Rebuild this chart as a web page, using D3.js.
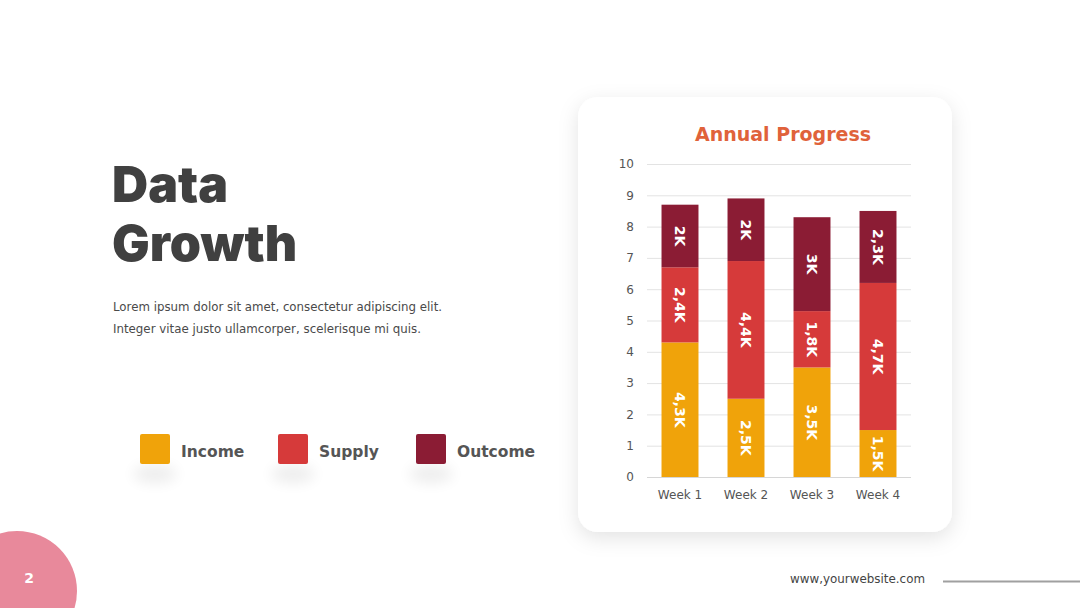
<!DOCTYPE html>
<html>
<head>
<meta charset="utf-8">
<script src="https://cdn.jsdelivr.net/npm/d3@7"></script>
<style>
  body { margin: 0; background: #fff; }
  svg { display: block; }
</style>
</head>
<body>
<div></div>
<script>
var width = 1080;
var height = 608;

// chart data
var weeks = ["Week 1", "Week 2", "Week 3", "Week 4"];
var income = [4.3, 2.5, 3.5, 1.5];
var supply = [2.4, 4.4, 1.8, 4.7];
var outcome = [2, 2, 3, 2.3];
var seriesNames = ["Income", "Supply", "Outcome"];
var seriesColors = ["#F0A30A", "#D63A3A", "#8B1C34"];
var yTicks = [0, 1, 2, 3, 4, 5, 6, 7, 8, 9, 10];

const svg = d3.select("div")
  .append("svg")
  .attr("width", width)
  .attr("height", height);

var defs = svg.append("defs");
var shadow = defs.append("filter").attr("id", "cardShadow")
  .attr("x", "-20%").attr("y", "-20%").attr("width", "140%").attr("height", "140%");
shadow.append("feDropShadow").attr("dx", 0).attr("dy", 6).attr("stdDeviation", 10)
  .attr("flood-color", "#000").attr("flood-opacity", 0.11);

var blur = defs.append("filter").attr("id", "softBlur")
  .attr("x", "-100%").attr("y", "-100%").attr("width", "300%").attr("height", "300%");
blur.append("feGaussianBlur").attr("stdDeviation", 7);

// left side text
svg.append("text")
  .attr("x", 112).attr("y", 202)
  .attr("font-family", "Inter, Roboto, sans-serif")
  .attr("font-weight", 900)
  .attr("font-size", 50)
  .attr("fill", "#404040")
  .text("Data");
svg.append("text")
  .attr("x", 112).attr("y", 261)
  .attr("font-family", "Inter, Roboto, sans-serif")
  .attr("font-weight", 900)
  .attr("font-size", 50)
  .attr("fill", "#404040")
  .text("Growth");

var body = svg.append("g")
  .attr("font-family", "'DejaVu Sans', Verdana, sans-serif")
  .attr("font-size", 12)
  .attr("fill", "#4a4a4a");
body.append("text").attr("x", 113).attr("y", 311)
  .attr("textLength", 329).attr("lengthAdjust", "spacingAndGlyphs")
  .text("Lorem ipsum dolor sit amet, consectetur adipiscing elit.");
body.append("text").attr("x", 113).attr("y", 333)
  .attr("textLength", 308).attr("lengthAdjust", "spacingAndGlyphs")
  .text("Integer vitae justo ullamcorper, scelerisque mi quis.");

// legend
var legendX = [140, 278, 416];
var legend = svg.append("g");
seriesNames.forEach((name, i) => {
  var g = legend.append("g").attr("transform", `translate(${legendX[i]},434)`);
  g.append("ellipse").attr("cx", 15).attr("cy", 40).attr("rx", 22).attr("ry", 9)
    .attr("fill", "#000").attr("opacity", 0.07).attr("filter", "url(#softBlur)");
  g.append("rect").attr("width", 30).attr("height", 30).attr("rx", 2)
    .attr("fill", seriesColors[i]);
  g.append("text")
    .attr("x", 41).attr("y", 23)
    .attr("font-family", "'DejaVu Sans', Verdana, sans-serif")
    .attr("font-weight", "bold")
    .attr("font-size", 15.5)
    .attr("fill", "#555")
    .text(name);
});

// card
var card = { x: 578, y: 97, w: 374, h: 435 };
svg.append("rect")
  .attr("x", card.x).attr("y", card.y)
  .attr("width", card.w).attr("height", card.h)
  .attr("rx", 20)
  .attr("fill", "#fff")
  .attr("filter", "url(#cardShadow)");

svg.append("text")
  .attr("x", 783).attr("y", 141)
  .attr("text-anchor", "middle")
  .attr("font-family", "'DejaVu Sans', Verdana, sans-serif")
  .attr("font-weight", "bold")
  .attr("font-size", 19)
  .attr("fill", "#E0623A")
  .text("Annual Progress");

// chart scales
var x = d3.scaleBand()
  .domain(weeks)
  .range([647, 911])
  .paddingInner(0.44)
  .paddingOuter(0.22);

var y = d3.scaleLinear()
  .domain([0, 10])
  .range([477, 164]);

// gridlines
svg.append("g")
  .selectAll("line")
  .data(yTicks)
  .join("line")
  .attr("x1", 647).attr("x2", 911)
  .attr("y1", (d) => y(d) + 0.5)
  .attr("y2", (d) => y(d) + 0.5)
  .attr("stroke", (d) => d === 0 ? "#d6d6d6" : "#e3e3e3")
  .attr("stroke-width", 1);

// y axis
var yAxis = svg.append("g")
  .attr("transform", "translate(634,0)")
  .call(d3.axisLeft(y).tickValues(yTicks).tickSize(0).tickPadding(0));
yAxis.select(".domain").remove();
yAxis.selectAll("text")
  .attr("font-family", "'DejaVu Sans', Verdana, sans-serif")
  .attr("font-size", 12)
  .attr("fill", "#555");

// x axis
var xAxis = svg.append("g")
  .attr("transform", "translate(0,477)")
  .call(d3.axisBottom(x).tickSize(0).tickPadding(13));
xAxis.select(".domain").remove();
xAxis.selectAll("text")
  .attr("font-family", "'DejaVu Sans', Verdana, sans-serif")
  .attr("font-size", 12)
  .attr("fill", "#555");

// stacked bars
var table = weeks.map((w, i) => ({ week: w, Income: income[i], Supply: supply[i], Outcome: outcome[i] }));
var stack = d3.stack().keys(seriesNames)(table);

var layers = svg.append("g")
  .selectAll("g")
  .data(stack)
  .join("g")
  .attr("fill", (d, i) => seriesColors[i]);

layers.selectAll("rect")
  .data((d) => d)
  .join("rect")
  .attr("x", (d) => x(d.data.week))
  .attr("y", (d) => y(d[1]))
  .attr("width", x.bandwidth())
  .attr("height", (d) => y(d[0]) - y(d[1]));

// bar labels (value read back from the table to avoid float noise)
var fmt = (v) => String(v).replace(".", ",") + "K";
layers.selectAll("text")
  .data((layer) => layer.map((d) => ({ d: d, key: layer.key })))
  .join("text")
  .attr("transform", (e) => `translate(${x(e.d.data.week) + x.bandwidth() / 2},${(y(e.d[0]) + y(e.d[1])) / 2}) rotate(90)`)
  .attr("text-anchor", "middle")
  .attr("dy", "0.35em")
  .attr("font-family", "'DejaVu Sans', Verdana, sans-serif")
  .attr("font-weight", "bold")
  .attr("font-size", 14)
  .attr("fill", "#fff")
  .text((e) => fmt(e.d.data[e.key]));

// page number
svg.append("circle")
  .attr("cx", 17).attr("cy", 591).attr("r", 60)
  .attr("fill", "#E8899B");
svg.append("text")
  .attr("x", 29).attr("y", 583)
  .attr("text-anchor", "middle")
  .attr("font-family", "'DejaVu Sans', Verdana, sans-serif")
  .attr("font-weight", "bold")
  .attr("font-size", 14)
  .attr("fill", "#fff")
  .text("2");

// footer
svg.append("text")
  .attr("x", 790).attr("y", 583)
  .attr("font-family", "'DejaVu Sans', Verdana, sans-serif")
  .attr("font-size", 12)
  .attr("fill", "#444")
  .attr("textLength", 135).attr("lengthAdjust", "spacingAndGlyphs")
  .text("www,yourwebsite.com");
svg.append("line")
  .attr("x1", 943).attr("x2", 1080)
  .attr("y1", 581.5).attr("y2", 581.5)
  .attr("stroke", "#a0a0a0")
  .attr("stroke-width", 2);
</script>
</body>
</html>
